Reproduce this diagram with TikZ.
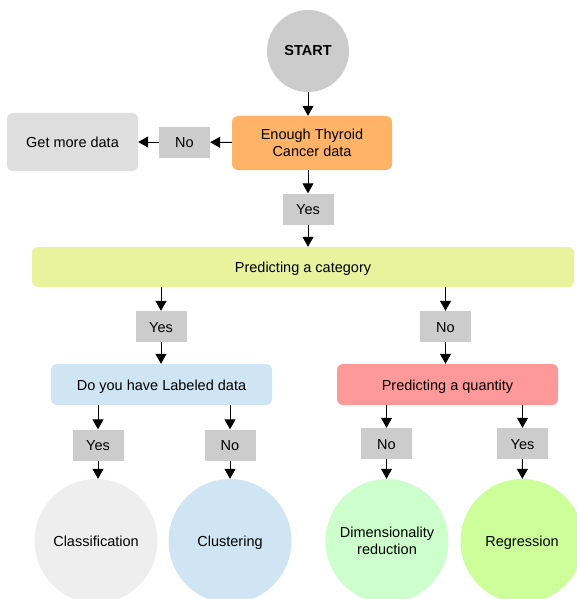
\documentclass[tikz,border=0pt]{standalone}
\usepackage{fontspec}
\setmainfont{Liberation Sans}
\usetikzlibrary{arrows.meta,shapes.geometric}
\definecolor{startgray}{HTML}{CCCCCC}
\definecolor{enoughorange}{HTML}{FFB366}
\definecolor{moregray}{HTML}{DEDEDE}
\definecolor{catgreen}{HTML}{E8F39E}
\definecolor{labblue}{HTML}{CFE5F3}
\definecolor{quantred}{HTML}{FF9999}
\definecolor{classgray}{HTML}{EEEEEE}
\definecolor{dimgreen}{HTML}{CCFFCC}
\definecolor{reggreen}{HTML}{CCFF99}
\begin{document}
\begin{tikzpicture}[x=1pt, y=-1pt,
    every node/.style={font=\fontsize{14.5}{16.5}\selectfont, align=center, inner sep=0pt},
    oneline/.style={text height=11pt, text depth=0pt},
    stepbox/.style={oneline, rounded corners=6pt, minimum height=#1},
    answer/.style={oneline, fill=startgray, minimum width=51pt, minimum height=31pt},
    leaf/.style={oneline, ellipse, minimum width=123pt, minimum height=124pt},
    flow/.style={-{Triangle[length=10pt,width=11pt]}, line width=1pt}]
  \useasboundingbox (0, 0) rectangle (576, 599);

  \node[circle, fill=startgray, minimum size=82pt] (start) at (308, 51) {\textbf{START}};
  \node[stepbox=54pt, text height=, text depth=, fill=enoughorange, minimum width=160pt] (enough) at (312, 143) {Enough Thyroid\\Cancer data};
  \node[answer] (no1) at (184.5, 142) {No};
  \node[stepbox=58pt, fill=moregray, minimum width=131pt] (more) at (72.5, 142) {Get more data};
  \node[answer] (yes1) at (308, 209) {Yes};
  \node[stepbox=40pt, fill=catgreen, minimum width=542pt] (cat) at (303, 267) {Predicting a category};

  \node[answer] (yes2) at (161, 326.5) {Yes};
  \node[answer] (no2) at (445.5, 326.5) {No};
  \node[stepbox=41pt, fill=labblue, minimum width=221pt] (labeled) at (161.5, 384.5) {Do you have Labeled data};
  \node[stepbox=41pt, fill=quantred, minimum width=221pt] (quant) at (447.5, 384.5) {Predicting a quantity};

  \node[answer] (yes3) at (98, 445) {Yes};
  \node[answer] (no3) at (230, 445) {No};
  \node[answer] (no4) at (386.5, 443.5) {No};
  \node[answer] (yes4) at (522.5, 443.5) {Yes};

  \node[leaf, fill=classgray] (class) at (96, 541) {Classification};
  \node[leaf, fill=labblue] (clust) at (230, 541) {Clustering};
  \node[leaf, text height=, text depth=, inner xsep=-8pt, fill=dimgreen] (dim) at (387, 541) {Dimensionality\\reduction};
  \node[leaf, fill=reggreen] (reg) at (522, 541) {Regression};

  \draw[flow] (start) -- (start |- enough.north);
  \draw[flow] (enough) -- (no1);
  \draw[flow] (no1) -- (more);
  \draw[flow] (yes1 |- enough.south) -- (yes1);
  \draw[flow] (yes1) -- (yes1 |- cat.north);

  \draw[flow] (yes2 |- cat.south) -- (yes2);
  \draw[flow] (no2 |- cat.south) -- (no2);
  \draw[flow] (yes2) -- (yes2 |- labeled.north);
  \draw[flow] (no2) -- (no2 |- quant.north);

  \draw[flow] (yes3 |- labeled.south) -- (yes3);
  \draw[flow] (no3 |- labeled.south) -- (no3);
  \draw[flow] (no4 |- quant.south) -- (no4);
  \draw[flow] (yes4 |- quant.south) -- (yes4);

  \draw[flow] (yes3) -- (yes3 |- class.north);
  \draw[flow] (no3) -- (clust);
  \draw[flow] (no4) -- (no4 |- dim.north);
  \draw[flow] (yes4) -- (reg);
\end{tikzpicture}
\end{document}
